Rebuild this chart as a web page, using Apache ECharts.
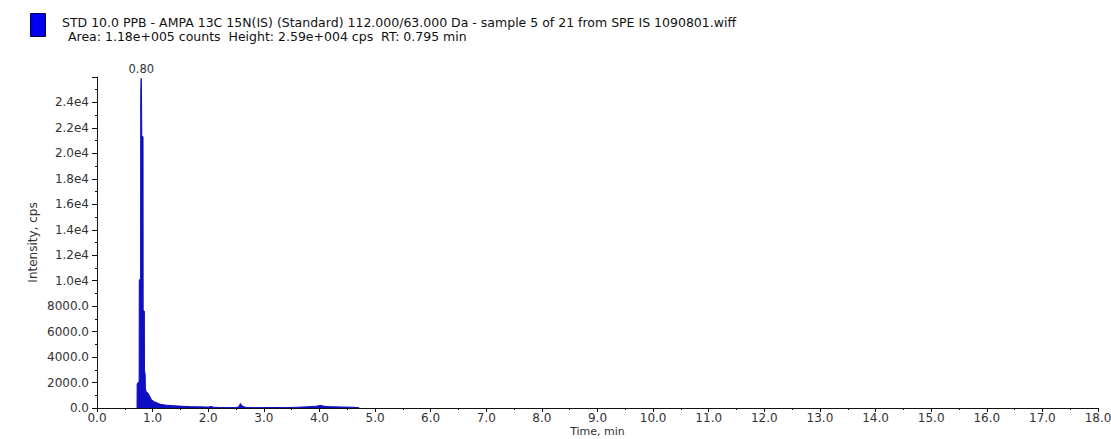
<!DOCTYPE html>
<html>
<head>
<meta charset="utf-8">
<script src="https://cdn.jsdelivr.net/npm/echarts@6/dist/echarts.min.js"></script>
<style>
  html, body { margin: 0; padding: 0; background: #fff; }
  #chart { width: 1111px; height: 439px; }
</style>
</head>
<body>
<div id="chart"></div>
<script>
// XIC trace (time in min, intensity in cps)
const times = [
  0.720, 0.722, 0.740, 0.758, 0.760, 0.784, 0.786, 0.795, 0.800, 0.806,
  0.828, 0.830, 0.852, 0.854, 0.866, 0.870, 0.880, 0.920, 0.950, 0.980,
  1.020, 1.080, 1.150, 1.250, 1.400, 1.550, 1.700, 1.850, 2.000, 2.050,
  2.100, 2.200, 2.300, 2.400, 2.500, 2.550, 2.580, 2.600, 2.650, 2.700,
  2.800, 3.000, 3.200, 3.400, 3.600, 3.800, 3.950, 4.000, 4.050, 4.100,
  4.200, 4.400, 4.600, 4.700, 4.720
];
const intensities = [
  0, 1900, 2000, 2100, 10000, 10200, 24700, 25900, 24700, 21400,
  21300, 7700, 7600, 3000, 2600, 1600, 1300, 1150, 900, 650,
  520, 400, 280, 220, 170, 130, 100, 90, 70, 120,
  60, 40, 30, 40, 30, 100, 350, 200, 80, 40,
  30, 30, 40, 30, 60, 100, 140, 200, 180, 120,
  100, 80, 60, 30, 0
];
const peakTime = 0.795;
const peakLabel = '0.80';

const yTickLabels = ['0.0', '2000.0', '4000.0', '6000.0', '8000.0', '1.0e4', '1.2e4',
  '1.4e4', '1.6e4', '1.8e4', '2.0e4', '2.2e4', '2.4e4', ''];

const titleLine1 = 'STD 10.0 PPB - AMPA 13C 15N(IS) (Standard) 112.000/63.000 Da - sample 5 of 21 from SPE IS 1090801.wiff';
const titleLine2 = 'Area: 1.18e+005 counts  Height: 2.59e+004 cps  RT: 0.795 min';

const traceColor = '#0e0ec2';
const font = 'DejaVu Sans, sans-serif';

let mychart = echarts.init(document.getElementById('chart'), null, { renderer: 'svg' });

let data = times.map((t, i) => [t, intensities[i]]);
let peakValue = intensities[times.indexOf(peakTime)];

let axisStyle = { color: '#333', fontSize: 12, fontFamily: font };

let option = {
  animation: false,
  backgroundColor: '#fff',
  title: [
    { text: titleLine1, left: 62, top: 16, padding: 0, textStyle: { fontSize: 12.5, fontWeight: 'normal', color: '#111', fontFamily: font } },
    { text: titleLine2, left: 68, top: 30, padding: 0, textStyle: { fontSize: 12.5, fontWeight: 'normal', color: '#111', fontFamily: font } }
  ],
  legend: {
    left: 30, top: 13, padding: 0,
    icon: 'rect', itemWidth: 15, itemHeight: 23,
    formatter: () => '',
    itemStyle: { color: '#0000f0', borderColor: '#00004a', borderWidth: 1 },
    data: [titleLine1]
  },
  grid: { left: 97, right: 13, top: 77, bottom: 31, outerBoundsMode: 'none' },
  xAxis: {
    type: 'value', min: 0, max: 18, interval: 1,
    name: 'Time, min', nameLocation: 'middle', nameGap: 18, nameMoveOverlap: false,
    nameTextStyle: { color: '#333', fontSize: 11, fontFamily: font, verticalAlign: 'top' },
    axisLine: { lineStyle: { color: '#111', width: 1 } },
    axisTick: { length: 4, lineStyle: { color: '#111' } },
    minorTick: { show: true, splitNumber: 2, length: 2, lineStyle: { color: '#111' } },
    splitLine: { show: false },
    axisLabel: Object.assign({ margin: 4, formatter: (v) => v.toFixed(1) }, axisStyle)
  },
  yAxis: {
    type: 'value', min: 0, max: 26000, interval: 2000,
    name: 'Intensity, cps', nameLocation: 'middle', nameGap: 58, nameRotate: 90, nameMoveOverlap: false,
    nameTextStyle: axisStyle,
    axisLine: { show: true, lineStyle: { color: '#111', width: 1 } },
    axisTick: { show: true, length: 5, lineStyle: { color: '#111' } },
    minorTick: { show: true, splitNumber: 2, length: 2, lineStyle: { color: '#111' } },
    splitLine: { show: false },
    axisLabel: Object.assign({ margin: 8, formatter: (v) => yTickLabels[Math.round(v / 2000)] }, axisStyle)
  },
  series: [
    {
      name: titleLine1,
      type: 'line',
      data: data,
      showSymbol: false,
      symbol: 'none',
      sampling: 'none',
      color: traceColor,
      lineStyle: { color: traceColor, width: 1 },
      areaStyle: { color: traceColor, opacity: 1 },
      markPoint: {
        silent: true,
        symbol: 'circle',
        symbolSize: 1,
        itemStyle: { color: 'rgba(0,0,0,0)' },
        label: { show: true, position: 'top', distance: 3, formatter: peakLabel, color: '#333', fontSize: 11.5, fontFamily: font },
        data: [{ coord: [peakTime, peakValue] }]
      }
    }
  ]
};

mychart.setOption(option);
window.addEventListener('resize', () => {
  mychart.resize();
});
</script>
</body>
</html>
